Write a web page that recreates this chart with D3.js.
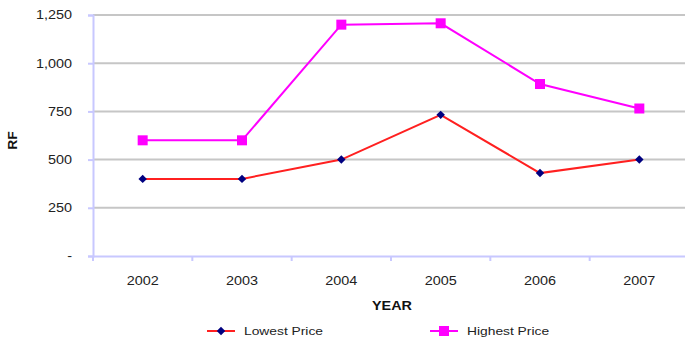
<!DOCTYPE html>
<html>
<head>
<meta charset="utf-8">
<script src="https://cdn.jsdelivr.net/npm/d3@7"></script>
<style>
  html, body { margin: 0; padding: 0; background: #fff; }
  svg { display: block; font-family: "Liberation Sans", Arial, sans-serif; }
</style>
</head>
<body>
<svg id="chart" width="685" height="342"></svg>
<script>
const years = ["2002", "2003", "2004", "2005", "2006", "2007"];
const lowestPrice = [400, 400, 500, 732, 430, 500];
const highestPrice = [600, 600, 1200, 1207, 892, 765];
const yTicks = [0, 250, 500, 750, 1000, 1250];

const svg = d3.select("#chart");
const margin = { left: 93, top: 15, right: -4, bottom: 86 };
const W = 685, H = 342;
const textColor = "#222";

// widen text horizontally to the chart's wide lettering
function stretch(sel, k) {
  sel.each(function () {
    const w = this.getComputedTextLength();
    d3.select(this).attr("textLength", w * k).attr("lengthAdjust", "spacingAndGlyphs");
  });
}

const x = d3.scaleBand().domain(years).range([margin.left, W - margin.right]);
const y = d3.scaleLinear().domain([0, 1250]).range([H - margin.bottom, margin.top]);

// horizontal gridlines
svg.append("g").selectAll("line").data(yTicks.filter(d => d > 0)).join("line")
  .attr("x1", margin.left).attr("x2", W)
  .attr("y1", d => y(d)).attr("y2", d => y(d))
  .attr("stroke", "#c6c6c6").attr("stroke-width", 2);

const axisColor = "#c8c8ff";

// y axis
const yAxis = svg.append("g").attr("transform", `translate(${margin.left},0)`)
  .call(d3.axisLeft(y).tickValues(yTicks).tickSize(5).tickPadding(16)
    .tickFormat(d => d === 0 ? "-" : d3.format(",")(d)));
yAxis.select(".domain").attr("stroke", axisColor).attr("stroke-width", 2);
yAxis.selectAll(".tick line").attr("stroke", axisColor).attr("stroke-width", 2);
yAxis.selectAll(".tick text").attr("font-size", 12).attr("fill", textColor).call(stretch, 1.2);

// x axis with ticks at category boundaries
const xAxis = svg.append("g").attr("transform", `translate(0,${y(0)})`)
  .call(d3.axisBottom(x).tickSize(0).tickPadding(20));
xAxis.select(".domain").attr("stroke", axisColor).attr("stroke-width", 2);
xAxis.selectAll(".tick text").attr("font-size", 12).attr("fill", textColor).call(stretch, 1.2);
xAxis.selectAll(".bound").data(years).join("line").attr("class", "bound")
  .attr("x1", d => x(d)).attr("x2", d => x(d))
  .attr("y1", 0).attr("y2", 5)
  .attr("stroke", axisColor).attr("stroke-width", 2);

// axis titles
svg.append("text").attr("transform", `translate(17,${(margin.top + y(0)) / 2 + 5}) rotate(-90)`)
  .attr("text-anchor", "middle").attr("font-size", 12).attr("font-weight", "bold")
  .attr("fill", "#111").text("RF").call(stretch, 1.15);
svg.append("text").attr("x", 392).attr("y", 310)
  .attr("text-anchor", "middle").attr("font-size", 12).attr("font-weight", "bold")
  .attr("fill", "#111").text("YEAR").call(stretch, 1.2);

const cx = d => x(d) + x.bandwidth() / 2;
const line = d3.line().x((d, i) => cx(years[i])).y(d => y(d));

// highest price series
svg.append("path").datum(highestPrice).attr("d", line)
  .attr("fill", "none").attr("stroke", "#ff00ff").attr("stroke-width", 2);
svg.append("g").selectAll("rect").data(highestPrice).join("rect")
  .attr("x", (d, i) => cx(years[i]) - 5).attr("y", d => y(d) - 5)
  .attr("width", 10).attr("height", 10).attr("fill", "#ff00ff");

// lowest price series
svg.append("path").datum(lowestPrice).attr("d", line)
  .attr("fill", "none").attr("stroke", "#ff2020").attr("stroke-width", 2);
const diamond = d3.symbol().type(d3.symbolSquare).size(36);
svg.append("g").selectAll("path").data(lowestPrice).join("path")
  .attr("transform", (d, i) => `translate(${cx(years[i])},${y(d)}) rotate(45)`)
  .attr("d", diamond).attr("fill", "#000080");

// legend
const legend = [
  { name: "Lowest Price", color: "#ff2020", mark: "diamond", x: 207 },
  { name: "Highest Price", color: "#ff00ff", mark: "square", x: 430 }
];
const lg = svg.append("g").selectAll("g").data(legend).join("g")
  .attr("transform", d => `translate(${d.x},331)`);
lg.append("line").attr("x1", 0).attr("x2", 28).attr("y1", 0).attr("y2", 0)
  .attr("stroke", d => d.color).attr("stroke-width", 2);
lg.filter(d => d.mark === "diamond").append("path")
  .attr("transform", "translate(14,0) rotate(45)").attr("d", diamond).attr("fill", "#000080");
lg.filter(d => d.mark === "square").append("rect")
  .attr("x", 9).attr("y", -5).attr("width", 10).attr("height", 10).attr("fill", "#ff00ff");
lg.append("text").attr("x", 37).attr("y", 4).attr("font-size", 11.5).attr("fill", textColor)
  .text(d => d.name).call(stretch, 1.2);
</script>
</body>
</html>
